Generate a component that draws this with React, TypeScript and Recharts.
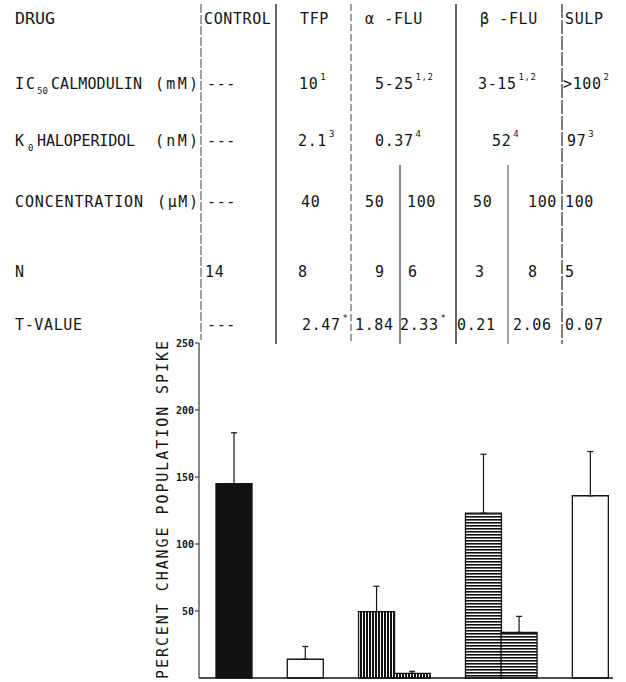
import React from 'react';
import { Bar, BarChart, Cell, ErrorBar, ReferenceLine, XAxis, YAxis } from 'recharts';

// bar groups (blank keys are spacer slots between drugs)
const groups = ['CONTROL', 'gap1', 'TFP', 'gap2', 'aFLU50', 'aFLU100', 'gap3', 'bFLU50', 'bFLU100', 'gap4', 'SULP'];
const spikeChange = [145, null, 14, null, 49.5, 3.5, null, 123, 34, null, 136];
const spikeSem = [38, null, 9.5, null, 19, 1.5, null, 44, 12, null, 33];
const fills = ['#111', 'none', '#fff', 'none', 'url(#vstripe)', 'url(#vstripe)', 'none', 'url(#hstripe)', 'url(#hstripe)', 'none', '#fff'];
const yTicks = [50, 100, 150, 200, 250];

// table above the chart
const drugHeaders = ['CONTROL', 'TFP', 'α -FLU', 'β -FLU', 'SULP'];
const ic50Values = ['---', '10', '5-25', '3-15', '>100'];
const ic50Refs = ['', '1', '1,2', '1,2', '2'];
const kdValues = ['---', '2.1', '0.37', '52', '97'];
const kdRefs = ['', '3', '4', '4', '3'];
const concValues = ['---', '40', '50', '100', '50', '100', '100'];
const nValues = ['14', '8', '9', '6', '3', '8', '5'];
const tValues = ['---', '2.47', '1.84', '2.33', '0.21', '2.06', '0.07'];
const tSignificant = [false, true, false, true, false, false, false];

const data = groups.map((g, i) => ({
  group: g,
  value: spikeChange[i],
  err: spikeSem[i] == null ? null : [0, spikeSem[i]],
}));

const FONT = '"DejaVu Sans Mono", monospace';
const INK = '#141414';

const Cell5 = ({ x, y, text, sup }: { x: number; y: number; text: string; sup?: string }) => (
  <text x={x} y={y} fontSize={15} letterSpacing={0.6}>
    {text}
    {sup ? (
      <tspan fontSize={9} dy={-9} dx={2}>
        {sup}
      </tspan>
    ) : null}
  </text>
);

const Table = () => {
  const headX = [204, 300, 365, 480, 565];
  const icX = [207, 299, 375, 478, 563];
  const kdX = [207, 298, 375, 492, 567];
  const concX = [207, 301, 365, 407, 473, 528, 565];
  const nX = [205, 298, 375, 408, 475, 528, 565];
  const tX = [207, 302, 355, 400, 457, 513, 565];
  const rows = { head: 24, ic: 89, kd: 146, conc: 207, n: 277, t: 330 };
  const lines = [
    { x: 201, y1: 4, y2: 340, w: 0.8, dash: '9 2' },
    { x: 276, y1: 4, y2: 344, w: 1.3 },
    { x: 351, y1: 4, y2: 344, w: 0.8, dash: '7 3' },
    { x: 400, y1: 165, y2: 344, w: 1 },
    { x: 456, y1: 4, y2: 344, w: 1.3 },
    { x: 508, y1: 165, y2: 344, w: 0.8 },
    { x: 562, y1: 4, y2: 344, w: 1.1, dash: '14 2' },
  ];
  return (
    <svg
      width={626}
      height={682}
      style={{ position: 'absolute', left: 0, top: 0, pointerEvents: 'none' }}
      fontFamily={FONT}
      fill={INK}
    >
      {lines.map((l) => (
        <line key={l.x} x1={l.x} x2={l.x} y1={l.y1} y2={l.y2} stroke={INK} strokeWidth={l.w} strokeDasharray={l.dash} />
      ))}

      {/* row labels */}
      <text x={15} y={rows.head} fontSize={15} textLength={40} lengthAdjust="spacingAndGlyphs">DRUG</text>
      <text x={15} y={rows.ic} fontSize={15} textLength={20}>IC</text>
      <text x={37} y={rows.ic + 5} fontSize={9}>50</text>
      <text x={51} y={rows.ic} fontSize={15} textLength={91}>CALMODULIN</text>
      <text x={155} y={rows.ic} fontSize={15} textLength={43}>(mM)</text>
      <text x={15} y={rows.kd} fontSize={15}>K</text>
      <text x={28} y={rows.kd + 5} fontSize={9}>0</text>
      <text x={37} y={rows.kd} fontSize={15} textLength={98}>HALOPERIDOL</text>
      <text x={155} y={rows.kd} fontSize={15} textLength={43}>(nM)</text>
      <text x={15} y={rows.conc} fontSize={15} textLength={128}>CONCENTRATION</text>
      <text x={157} y={rows.conc} fontSize={15} textLength={41}>(μM)</text>
      <text x={15} y={rows.n} fontSize={15}>N</text>
      <text x={15} y={rows.t} fontSize={15} textLength={67}>T-VALUE</text>

      {drugHeaders.map((d, i) => (
        <Cell5 key={'h' + i} x={headX[i]} y={rows.head} text={d} />
      ))}
      {ic50Values.map((v, i) => (
        <Cell5 key={'ic' + i} x={icX[i]} y={rows.ic} text={v} sup={ic50Refs[i]} />
      ))}
      {kdValues.map((v, i) => (
        <Cell5 key={'kd' + i} x={kdX[i]} y={rows.kd} text={v} sup={kdRefs[i]} />
      ))}
      {concValues.map((v, i) => (
        <Cell5 key={'c' + i} x={concX[i]} y={rows.conc} text={v} />
      ))}
      {nValues.map((v, i) => (
        <Cell5 key={'n' + i} x={nX[i]} y={rows.n} text={v} />
      ))}
      {tValues.map((v, i) => (
        <Cell5 key={'t' + i} x={tX[i]} y={rows.t} text={v} sup={tSignificant[i] ? '*' : ''} />
      ))}

      <text
        transform="translate(168 510) rotate(-90)"
        textAnchor="middle"
        fontSize={15}
        textLength={338}
        lengthAdjust="spacing"
      >
        PERCENT CHANGE  POPULATION SPIKE
      </text>
    </svg>
  );
};

export default function App() {
  return (
    <div style={{ position: 'absolute', left: 0, top: 0, width: 626, height: 682, background: '#fff' }}>
      <BarChart
        width={626}
        height={682}
        data={data}
        margin={{ top: 343, right: 13, bottom: 4, left: 0 }}
        barCategoryGap={0}
        barGap={0}
      >
        <defs>
          <pattern id="vstripe" width={3} height={4} patternUnits="userSpaceOnUse">
            <rect width={3} height={4} fill="#111" />
            <rect x={2} width={1} height={4} fill="#fff" />
          </pattern>
          <pattern id="hstripe" width={4} height={3} patternUnits="userSpaceOnUse">
            <rect width={4} height={3} fill="#fff" />
            <rect width={4} height={1.6} fill="#111" />
          </pattern>
        </defs>
        <XAxis dataKey="group" hide padding={{ left: 17, right: 5 }} />
        <YAxis
          width={199}
          domain={[0, 250]}
          ticks={yTicks}
          tickSize={4}
          tickMargin={1}
          stroke={INK}
          tick={{ fontSize: 10, fontWeight: 'bold', fontFamily: FONT, fill: INK }}
        />
        <ReferenceLine y={0} stroke={INK} strokeWidth={1.3} />
        <Bar dataKey="value" stroke={INK} strokeWidth={1.3} isAnimationActive={false}>
          {data.map((d, i) => (
            <Cell key={d.group} fill={fills[i]} />
          ))}
          <ErrorBar dataKey="err" width={3} stroke={INK} strokeWidth={1.2} direction="y" />
        </Bar>
      </BarChart>
      <Table />
    </div>
  );
}
